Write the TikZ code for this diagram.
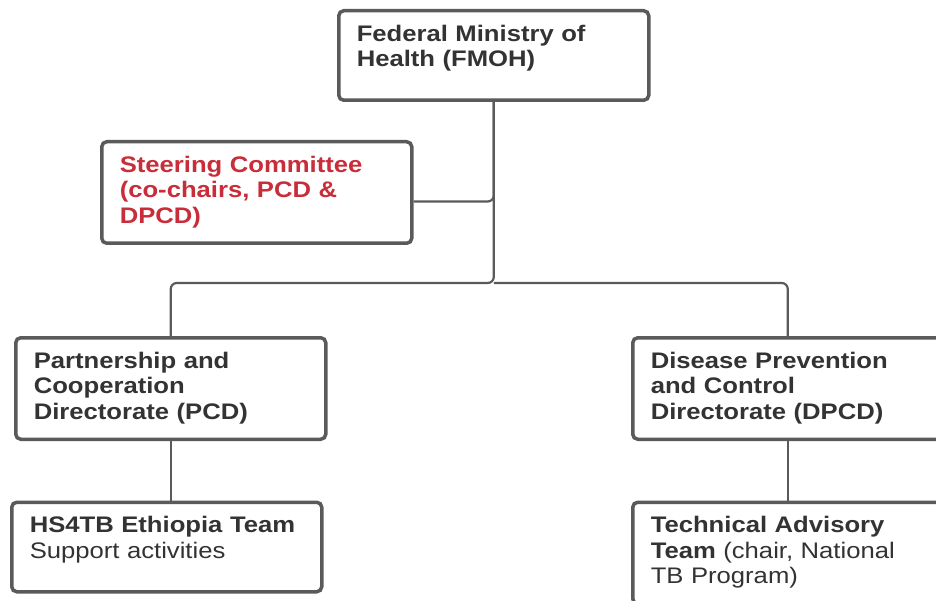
\documentclass[tikz,border=0pt]{standalone}
\usepackage{fontspec}
\setmainfont{Liberation Sans}[FakeStretch=1.14]
\usepackage{tikz}
\usetikzlibrary{positioning}
\definecolor{boxgray}{HTML}{5A5A5A}
\definecolor{txtgray}{HTML}{333333}
\definecolor{lucidred}{HTML}{C92D39}
\begin{document}
\begin{tikzpicture}[
  x=1pt, y=-1pt,
  node distance=59.5pt and 303.5pt,
  orgbox/.style={draw=boxgray,line width=3.5pt,rounded corners=5pt,fill=white,
    text width=274pt,inner xsep=18pt,inner ysep=0pt,align=left,
    text height=30.5pt,text depth=59pt,text=txtgray,
    font=\fontsize{22.5}{25.5}\selectfont},
  tallbox/.style={orgbox,text depth=71pt},
  link/.style={draw=boxgray,line width=2.2pt,rounded corners=6pt}
]
\useasboundingbox (0,0) rectangle (936,601);

\node[orgbox,anchor=north west] (fmoh) at (337,9) {\textbf{Federal Ministry of}\\\textbf{Health (FMOH)}};
\node[tallbox,anchor=north west,text=lucidred] (steer) at (100,140) {\textbf{Steering Committee}\\\textbf{(co-chairs, PCD \&}\\\textbf{DPCD)}};
\node[tallbox,anchor=north west] (pcd) at (14,336) {\textbf{Partnership and}\\\textbf{Cooperation}\\\textbf{Directorate (PCD)}};
\node[tallbox,right=of pcd] (dpcd) {\textbf{Disease Prevention}\\\textbf{and Control}\\\textbf{Directorate (DPCD)}};
\node[orgbox,below=of pcd,xshift=-4pt] (hs4tb) {\textbf{HS4TB Ethiopia Team}\\Support activities};
\node[tallbox,below=of dpcd] (tat) {\textbf{Technical Advisory}\\\textbf{Team} (chair, National\\TB Program)};

\coordinate (fork) at (fmoh.south |- 0,283);

\draw[link] (fmoh.south) |- ([yshift=-9pt]steer.east);
\draw[link] (fmoh.south) -- (fork) -| (pcd.north);
\draw[link] (fork) -| (dpcd.north);
\draw[link] (pcd.south) -- (pcd.south |- hs4tb.north);
\draw[link] (dpcd.south) -- (tat.north);

\end{tikzpicture}
\end{document}
